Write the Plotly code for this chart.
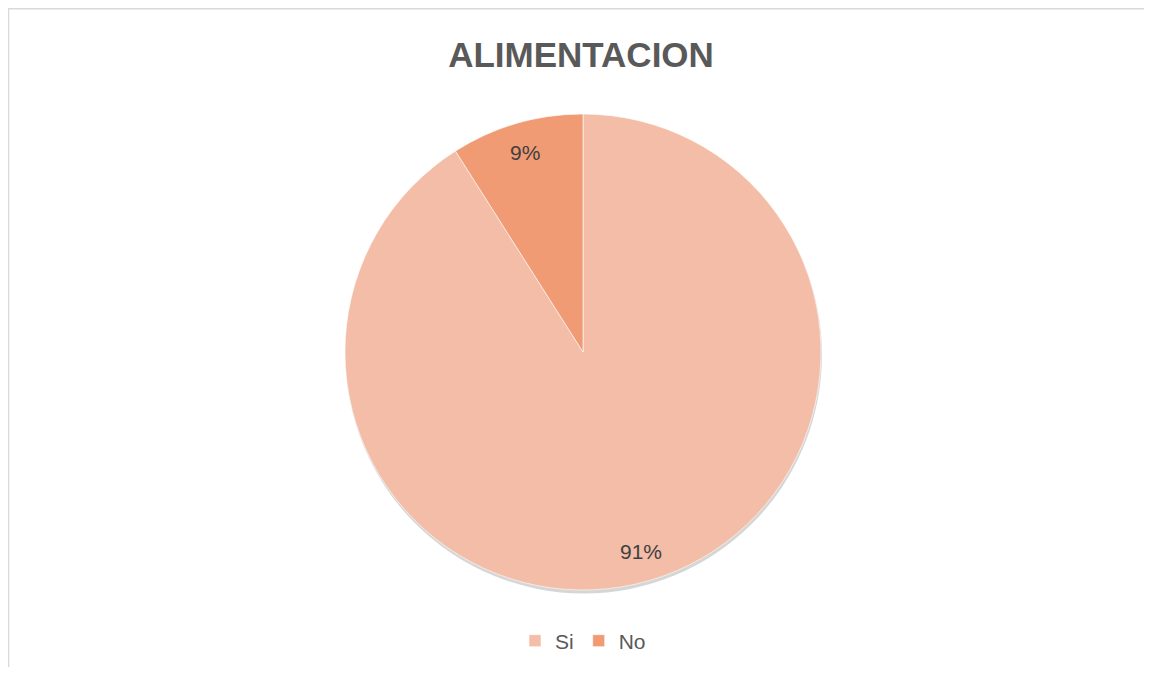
import math
import plotly.graph_objects as go

categories = ["Si", "No"]
values = [91, 9]
colors = ["#F3BDA8", "#F09B74"]
title_text = "ALIMENTACION"

# page body has an 8px margin, so the figure is sized to fit the window
W, H = 1136, 659
ml, mr, mt, mb = 100, 86, 106, 77
pw, ph = W - ml - mr, H - mt - mb
FONT = "Liberation Sans, Arial, sans-serif"

fig = go.Figure(go.Pie(
    labels=categories,
    values=values,
    sort=False,
    direction="clockwise",
    rotation=0,
    marker=dict(colors=colors, line=dict(color="rgba(255,255,255,0.6)", width=1)),
    textinfo="none",
    hoverinfo="label+percent",
    domain=dict(x=[0, 1], y=[0, 1]),
))

# data labels at mid-angle of each slice (Excel-style best fit)
R = min(pw, ph) / 2
cx, cy = ml + pw / 2, mt + ph / 2
total = sum(values)
cum = 0
annotations = []
for cat, v in zip(categories, values):
    mid = (cum + v / 2) / total * 2 * math.pi
    cum += v
    r = 0.875 * R
    px = cx + r * math.sin(mid)
    py = cy - r * math.cos(mid)
    annotations.append(dict(
        x=(px - ml) / pw, y=(H - mb - py) / ph, xref="paper", yref="paper",
        text=f"{round(v / total * 100)}%", showarrow=False,
        font=dict(family=FONT, size=21, color="#404040"),
        xanchor="center", yanchor="middle",
    ))

shapes = [
    # chart border (top/left visible)
    dict(type="rect", xref="paper", yref="paper",
         x0=(0.5 - ml) / pw, x1=(W + 20 - ml) / pw,
         y0=(H - mb - (H + 20)) / ph, y1=(H - mb - 0.75) / ph,
         line=dict(color="#D9D9D9", width=1.5), fillcolor="rgba(0,0,0,0)", layer="below"),
    # soft shadow under the pie
    dict(type="circle", xref="paper", yref="paper",
         x0=(cx - R + 0.5 - ml) / pw, x1=(cx + R + 1 - ml) / pw,
         y0=(H - mb - (cy + R + 3.5)) / ph, y1=(H - mb - (cy - R + 2)) / ph,
         line=dict(width=0), fillcolor="rgba(0,0,0,0.16)", layer="below"),
]

fig.update_layout(
    width=W, height=H,
    margin=dict(l=ml, r=mr, t=mt, b=mb, autoexpand=False),
    paper_bgcolor="white",
    plot_bgcolor="white",
    title=dict(text=f"<b>{title_text}</b>", x=573 / W, xanchor="center",
               y=1 - 47 / H, yanchor="middle",
               font=dict(family=FONT, size=35, color="#595959")),
    showlegend=True,
    legend=dict(orientation="h", x=0.5, xanchor="center", y=(H - mb - 633) / ph, yanchor="middle",
                font=dict(family=FONT, size=21, color="#595959"),
                itemwidth=30, tracegroupgap=0),
    annotations=annotations,
    shapes=shapes,
)

fig.write_html("out.html")
